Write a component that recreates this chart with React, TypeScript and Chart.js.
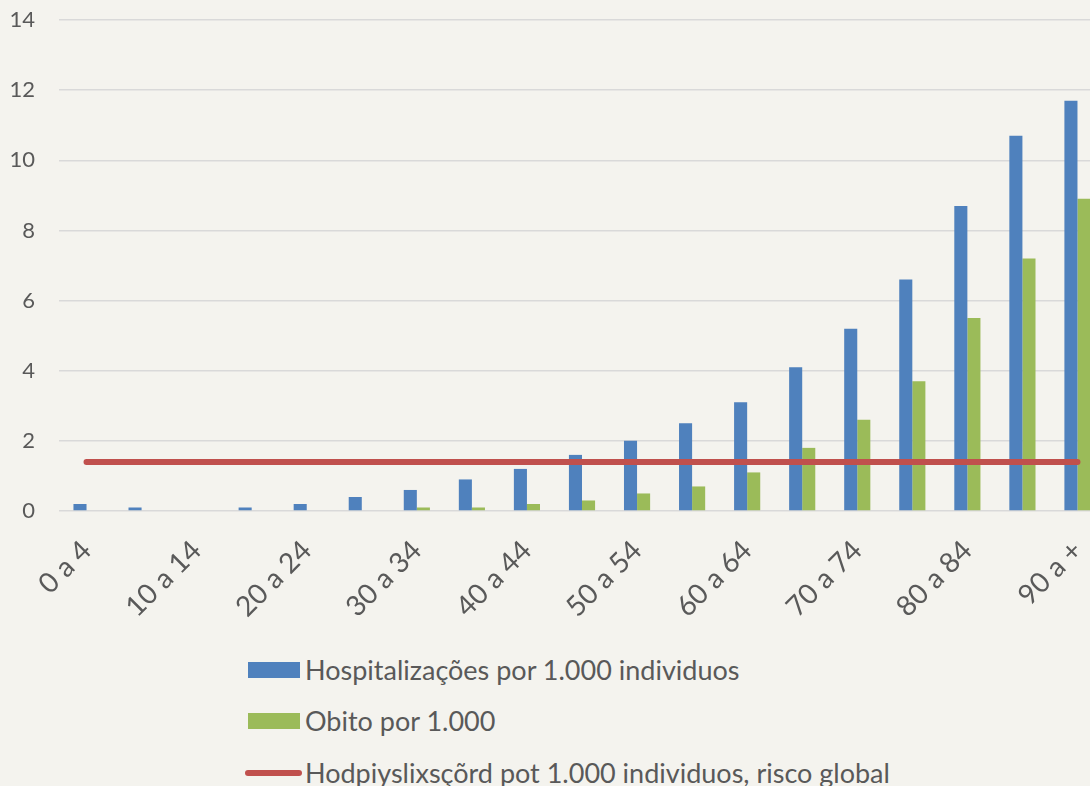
import React, { useEffect, useRef } from "react";
import { Chart, registerables } from "chart.js";

Chart.register(...registerables);

const categories = [
  "0 a 4", "5 a 9", "10 a 14", "15 a 19", "20 a 24", "25 a 29", "30 a 34",
  "35 a 39", "40 a 44", "45 a 49", "50 a 54", "55 a 59", "60 a 64", "65 a 69",
  "70 a 74", "75 a 79", "80 a 84", "85 a 89", "90 a +",
];
const hospitalizacoes = [0.2, 0.1, 0, 0.1, 0.2, 0.4, 0.6, 0.9, 1.2, 1.6, 2.0, 2.5, 3.1, 4.1, 5.2, 6.6, 8.7, 10.7, 11.7];
const obitos = [0, 0, 0, 0, 0, 0, 0.1, 0.1, 0.2, 0.3, 0.5, 0.7, 1.1, 1.8, 2.6, 3.7, 5.5, 7.2, 8.9];
const riscoGlobal = [1.4, 1.4, 1.4, 1.4, 1.4, 1.4, 1.4, 1.4, 1.4, 1.4, 1.4, 1.4, 1.4, 1.4, 1.4, 1.4, 1.4, 1.4, 1.4];
const seriesNames = [
  "Hospitalizações por 1.000 individuos",
  "Obito por 1.000",
  "Hodpiyslixsçõrd pot 1.000 individuos, risco global",
];

const BLUE = "#4F81BD";
const GREEN = "#9BBB59";
const RED = "#C0504D";
const BG = "#F4F3EE";
const TEXT = "#595959";
const FONT = "Lato, 'Open Sans', sans-serif";

export default function App() {
  const ref = useRef<HTMLCanvasElement>(null);
  useEffect(() => {
    if (!ref.current) return;
    const chart = new Chart(ref.current, {
      type: "bar",
      data: {
        labels: categories,
        datasets: [
          {
            type: "line",
            label: seriesNames[2],
            data: riscoGlobal,
            borderColor: RED,
            borderWidth: 6,
            borderCapStyle: "round",
            pointRadius: 0,
            fill: false,
            order: 0,
          } as any,
          {
            label: seriesNames[0],
            data: hospitalizacoes,
            backgroundColor: BLUE,
            barPercentage: 1,
            categoryPercentage: 0.475,
            order: 1,
          },
          {
            label: seriesNames[1],
            data: obitos,
            backgroundColor: GREEN,
            barPercentage: 1,
            categoryPercentage: 0.475,
            order: 1,
          },
        ],
      },
      options: {
        responsive: false,
        animation: false,
        layout: { padding: { top: 20, left: 0, right: 0, bottom: 0 } },
        plugins: {
          legend: { display: false },
          tooltip: { enabled: false },
        },
        scales: {
          x: {
            grid: { display: false },
            border: { display: false },
            ticks: {
              autoSkip: false,
              maxRotation: 45,
              minRotation: 45,
              padding: 15,
              color: TEXT,
              font: { family: FONT, size: 28 },
              callback: function (this: any, _v: any, i: number) {
                return i % 2 === 0 ? categories[i] : null;
              },
            },
            afterFit: (s: any) => {
              s.height = 129;
              s.paddingLeft = 0;
              s.paddingRight = 0;
            },
          },
          y: {
            min: 0,
            max: 14,
            ticks: {
              stepSize: 2,
              padding: 24,
              color: TEXT,
              font: { family: FONT, size: 22 },
            },
            grid: { color: "#D9D9D9", lineWidth: 1.5, drawTicks: false },
            border: { display: false },
            afterFit: (s: any) => {
              s.width = 59;
              s.paddingTop = 0;
              s.paddingBottom = 0;
            },
          },
        },
      },
    });
    return () => chart.destroy();
  }, []);

  const textStyle: React.CSSProperties = {
    position: "absolute",
    left: 305,
    fontFamily: FONT,
    fontSize: 27,
    color: TEXT,
    lineHeight: "30px",
    whiteSpace: "nowrap",
  };

  return (
    <div style={{ position: "fixed", left: 0, top: 0, width: 1090, height: 786, overflow: "hidden", background: BG }}>
      <canvas ref={ref} width={1105} height={640} style={{ position: "absolute", left: 0, top: 0, width: 1105, height: 640 }} />
      <div style={{ position: "absolute", left: 248, top: 662, width: 52, height: 16, background: BLUE }} />
      <div style={{ ...textStyle, top: 655 }}>{seriesNames[0]}</div>
      <div style={{ position: "absolute", left: 248, top: 713, width: 52, height: 16, background: GREEN }} />
      <div style={{ ...textStyle, top: 706 }}>{seriesNames[1]}</div>
      <div style={{ position: "absolute", left: 245, top: 770, width: 57, height: 6, borderRadius: 3, background: RED }} />
      <div style={{ ...textStyle, top: 758 }}>{seriesNames[2]}</div>
    </div>
  );
}
